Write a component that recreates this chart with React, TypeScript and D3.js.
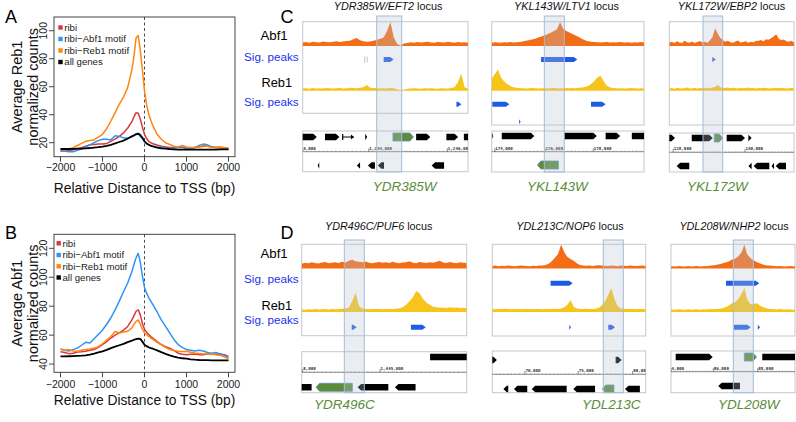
import React from "react";
import * as d3 from "d3";

const FONT = "'Liberation Sans', Arial, Helvetica, sans-serif";

// ---------- Panels A & B: metagene profiles ----------
const profilePos = [-2000,-1900,-1800,-1700,-1600,-1500,-1400,-1300,-1200,-1100,-1000,-900,-800,-700,-600,-500,-400,-300,-250,-200,-150,-100,-50,0,50,100,150,200,300,400,500,600,700,800,900,1000,1100,1200,1300,1400,1500,1600,1700,1800,1900,2000];

const reb1Ribi = [14,14,14.5,15,15.5,16.5,17.5,18.5,18.8,19,19,19.5,21,22.5,24.5,27,30.5,35,38.5,41.5,41,37,31,26,23,21,20,19.3,18.3,17.5,17,16.5,16.5,16.5,16.5,16,16,16.5,17,17.5,17.5,17,16.5,16.5,16,15.5];
const reb1Abf1Motif = [14.5,14,13.5,13.5,14.5,15.5,17,18.5,20,21.5,22.5,22.5,22,25,24.5,23.5,23,24.5,25.5,26.5,26,24.5,23,21,19.5,18.5,18,17.5,17,16.5,16,15.8,16,17,17,15.5,16,16.5,18,19,18.5,17,16.5,16.5,16,16];
const reb1Reb1Motif = [15.5,15,15.5,16.5,18,19.5,21,21.5,22,24,26,30,35.5,41.5,47.5,52.5,59.5,72,82,95,96.5,86,72,57,47,40.5,36,32,26,22.5,20,18.8,17.5,17,18,17,16.5,16.5,17,18,17.5,16.5,16.5,17,16.5,16];
const reb1AllGenes = [15.5,15.5,15.5,15.6,15.7,15.8,16,16.2,16.5,16.8,17.2,17.8,18.5,19.5,20.5,21.5,23,24.5,25.2,26,26.5,25.5,23.5,21,19.5,18.5,17.8,17.3,16.5,16,15.7,15.4,15.2,15,15,15,15,15,15,15,15,15,15.1,15.2,15.2,15.3];

const abf1Ribi = [48.5,48,47.2,47.5,48.3,48.5,48.8,49.5,50,51.5,53.5,55.5,58,60,61.5,63.5,66,70.5,73.5,76.5,77.5,74,68,64,62,60.5,59,58,55.5,53.5,52,51,49.5,47.5,46.8,46.5,46.8,47,46.5,46.5,47,47,46.8,47,46.5,45.3];
const abf1Abf1Motif = [50.5,49.5,49,50,51,53,55,54.5,57.5,60.5,63.5,67.5,72,77.5,83.5,90,96,104,109,113.5,116.5,110.5,101,93,89,86,83.5,81,76,70.5,66,61.5,57,53.5,51.5,50,49.5,49,49.5,49,48,47.5,48,47,46,44.5];
const abf1Reb1Motif = [50,49.5,50,49,48.8,49.5,50,50.5,51,52,54,56.5,59,62.5,61.5,62.2,62.7,65,67.5,69.5,70.5,67.5,64,61.5,60.3,59.2,58,57,55,53.4,51.5,50,49.3,48.8,48.7,48.8,48.2,47.6,47.3,47,47.2,47,46.5,46,45,43.7];
const abf1AllGenes = [45.3,45.3,45.4,45.5,45.7,45.8,46,46.5,47.2,48,48.8,49.8,51,52,53,54,55.2,56.2,56.8,57.3,57.6,57.4,55.5,53.4,52.4,51.6,51,50.6,49.5,48.2,47,46,45.2,44.5,44,43.7,43.3,43,42.8,42.7,42.7,42.6,42.6,42.5,42.5,42.5];

const seriesNames = ["ribi", "ribi\u2212Abf1 motif", "ribi\u2212Reb1 motif", "all genes"];
const seriesColors = ["#d8393f", "#2f93f5", "#ff8410", "#000000"];
const xTicks = [-2000, -1000, 0, 1000, 2000];
const yTicksA = [20, 40, 60, 80, 100];
const yTicksB = [40, 60, 80, 100, 120];

// ---------- Panels C & D: browser tracks (coverage sampled evenly across each locus) ----------
const c1Abf1 = [15,17,14,18,16,15,19,17,16,18,20,17,19,21,22,28,33,24,20,18,19,22,26,30,35,62,100,35,8,2,10,12,16,14,17,15,16,18,15,14,17,16,15,18,16,14,17,15,16,14];
const c1Reb1 = [9,10,8,11,9,10,9,11,10,9,10,11,9,10,12,11,10,12,14,24,12,11,10,9,10,9,11,10,5,3,4,8,9,10,9,8,10,9,10,9,8,10,9,9,11,14,35,72,14,9];
const c2Abf1 = [14,16,15,14,16,15,17,15,16,17,19,22,24,27,30,35,40,44,50,55,62,70,100,72,62,56,50,44,38,30,24,20,18,17,16,15,16,17,15,16,15,17,16,15,16,14,16,15,17,15];
const c2Reb1 = [50,70,88,55,38,28,20,14,12,11,10,9,10,11,10,9,10,10,9,10,11,10,9,10,11,10,11,10,12,13,15,20,28,40,55,62,40,22,14,11,10,9,10,9,10,11,10,9,10,9];
const c3Abf1 = [14,18,12,20,15,13,22,16,14,19,13,17,21,15,18,14,24,38,74,52,34,25,18,22,16,14,19,23,15,17,20,14,18,16,21,22,25,20,28,26,32,40,49,30,24,27,20,18,22,15];
const c3Reb1 = [9,11,8,12,10,9,11,13,9,10,12,9,11,10,12,11,10,13,15,25,14,12,11,13,10,12,11,9,12,10,11,13,10,12,9,11,10,12,11,10,9,12,11,10,12,11,9,10,11,10];
const d1Abf1 = [20,24,22,26,23,21,25,27,22,24,26,23,28,25,32,36,30,28,26,29,24,22,25,27,24,26,23,28,24,22,25,26,30,24,22,27,25,23,26,24,28,32,25,23,27,24,22,26,24,23];
const d1Reb1 = [10,9,11,10,12,10,11,12,10,13,11,12,14,15,18,45,80,25,15,12,11,12,13,12,11,12,13,12,14,16,20,30,45,60,87,78,55,40,30,22,20,18,19,17,20,18,19,17,18,16];
const d2Abf1 = [10,12,9,11,10,12,11,9,10,12,11,10,9,11,10,12,13,15,20,30,45,60,100,68,48,40,32,22,15,12,11,13,10,12,14,12,11,10,12,11,9,12,11,10,12,11,10,11,12,10];
const d2Reb1 = [12,11,13,12,14,12,11,13,12,11,12,13,12,11,13,12,11,12,13,12,14,13,15,20,30,50,22,15,13,12,14,13,12,14,18,28,45,70,100,55,25,16,14,12,13,12,11,12,13,12];
const d3Abf1 = [8,9,8,10,9,8,9,10,8,9,10,9,8,10,9,11,12,14,16,18,20,24,26,30,36,40,46,55,70,100,60,48,38,32,26,22,18,15,13,12,11,10,9,10,9,8,9,10,9,8];
const d3Reb1 = [9,10,9,11,10,9,10,11,9,10,11,10,9,11,10,12,11,13,12,14,15,18,22,28,35,40,48,60,78,100,55,38,30,34,36,28,22,18,15,13,12,11,10,12,11,10,11,10,9,10];

// peaks: [row, start, end, faint]
const c1Peaks = [[0,0.375,0.39,1],[0,0.49,0.55,0],[1,0.93,0.96,0]];
const c2Peaks = [[0,0.324,0.562,0],[1,0.004,0.116,0],[1,0.652,0.748,0],[2,0.18,0.19,0]];
const c3Peaks = [[0,0.345,0.372,0]];
const d1Peaks = [[1,0.303,0.333,0],[1,0.662,0.752,0]];
const d2Peaks = [[0,0.38,0.524,0],[1,0.502,0.513,0],[1,0.756,0.8,0]];
const d3Peaks = [[0,0.444,0.712,0],[1,0.508,0.643,0],[1,0.7,0.718,0]];

// genes: [start, end, strand, row, kind(0 black,1 target,2 thin)]
const c1Genes = [[-0.02,0.085,1,0,0],[0.135,0.222,1,0,0],[0.242,0.31,1,0,2],[0.378,0.39,1,0,0],[0.546,0.67,1,0,1],[0.686,0.772,1,0,0],[0.869,0.94,1,0,0],[0.975,1.05,1,0,0],
  [0.091,0.1,-1,1,0],[0.328,0.347,-1,1,0],[0.395,0.437,-1,1,0],[0.455,0.492,-1,1,0],[0.78,0.855,-1,1,0]];
const c2Genes = [[0.004,0.01,1,0,0],[0.066,0.28,1,0,0],[0.475,0.69,1,0,0],[0.748,0.843,1,0,0],[0.92,1.05,1,0,0],[0.3,0.438,-1,1,1]];
const c3Genes = [[-0.05,0.046,1,0,0],[0.18,0.348,1,0,0],[0.361,0.428,1,0,1],[0.46,0.607,1,0,0],[0.634,0.66,1,0,0],
  [0.059,0.16,-1,1,0],[0.634,0.66,-1,1,0],[0.676,0.802,-1,1,0],[0.82,0.84,-1,1,0],[0.853,0.936,-1,1,0]];
const d1Genes = [[0.778,1.05,1,0,0],[-0.05,0.06,-1,1,0],[0.087,0.307,-1,1,1],[0.339,0.525,-1,1,0],[0.565,0.69,-1,1,0]];
const d2Genes = [[-0.02,0.03,1,0,0],[0.804,0.843,1,0,0],[0.072,0.104,-1,1,0],[0.141,0.228,-1,1,0],[0.257,0.485,-1,1,0],[0.528,0.67,-1,1,0],[0.717,0.793,-1,1,1],[0.865,0.962,-1,1,0]];
const d3Genes = [[0.038,0.336,1,0,0],[0.591,0.69,1,0,1],[0.736,1.05,1,0,0],[0.381,0.556,-1,1,0]];

// ruler labels: [position, text]
const c1Ruler = [[0.0,"3,000"],[0.4,"1,244,000"],[0.875,"1,246,000"]];
const c2Ruler = [[0.02,"174,000"],[0.35,"176,000"],[0.667,"178,000"]];
const c3Ruler = [[0.032,"128,000"],[0.607,"130,000"]];
const d1Ruler = [[0.006,"8,000"],[0.475,"1,445,000"]];
const d2Ruler = [[0.213,"70,000"],[0.56,"75,000"],[0.915,"80,000"]];
const d3Ruler = [[0.0,"4,000"],[0.341,"86,000"],[0.7,"88,000"]];

const ABF_COLOR = "#f36c16";
const REB_COLOR = "#f7c41c";
const PEAK_COLOR = "#1f5ce6";
const GREEN = "#5b8c3a";
const LABEL_BLUE = "#2233ee";

type ProfileProps = {
  id: string; letter: string; letterY: number; boxTop: number; boxBottom: number;
  yDomain: [number, number]; yTicks: number[]; series: number[][]; yLabel: string;
  legendY: number[]; legendX: number; tickLabelY: number; titleY: number;
};

function Profile(p: ProfileProps) {
  const boxL = 54, boxR = 235;
  const x = d3.scaleLinear().domain([-2000, 2000]).range([60.5, 228.5]);
  const y = d3.scaleLinear().domain(p.yDomain).range([p.boxBottom, p.boxTop]);
  const line = d3.line<number>().x((_, i) => x(profilePos[i])).y(d => y(d));
  const midY = (p.boxTop + p.boxBottom) / 2;
  const order = [0, 1, 2, 3];
  return (
    <g>
      <text x={5} y={p.letterY} fontSize={18} fill="#000">{p.letter}</text>
      <rect x={boxL} y={p.boxTop} width={boxR - boxL} height={p.boxBottom - p.boxTop} fill="none" stroke="#333" strokeWidth={0.9} />
      {p.yTicks.map(t => (
        <g key={t}>
          <line x1={boxL} x2={boxL - 5} y1={y(t)} y2={y(t)} stroke="#333" strokeWidth={0.9} />
          <text transform={`translate(47,${y(t)}) rotate(-90)`} textAnchor="middle" fontSize={10.5} fill="#222">{t}</text>
        </g>
      ))}
      {xTicks.map(t => (
        <g key={t}>
          <line x1={x(t)} x2={x(t)} y1={p.boxBottom} y2={p.boxBottom + 5} stroke="#333" strokeWidth={0.9} />
          <text x={x(t)} y={p.tickLabelY} textAnchor="middle" fontSize={10.5} fill="#222">{t < 0 ? "\u2212" + Math.abs(t) : t}</text>
        </g>
      ))}
      <text transform={`translate(22,${midY}) rotate(-90)`} textAnchor="middle" fontSize={14.5} fill="#111">{p.yLabel}</text>
      <text transform={`translate(38,${midY}) rotate(-90)`} textAnchor="middle" fontSize={14.5} fill="#111">normalized counts</text>
      <text x={(boxL + boxR) / 2} y={p.titleY} textAnchor="middle" fontSize={13.8} fill="#111">Relative Distance to TSS (bp)</text>
      <line x1={x(0)} x2={x(0)} y1={p.boxTop} y2={p.boxBottom} stroke="#222" strokeWidth={0.8} strokeDasharray="3,2.5" />
      {order.map(i => (
        <path key={i} d={line(p.series[i]) || ""} fill="none" stroke={seriesColors[i]} strokeWidth={i === 3 ? 1.8 : 1.5} strokeLinejoin="round" />
      ))}
      {seriesNames.map((n, i) => (
        <g key={n}>
          <rect x={p.legendX} y={p.legendY[i] - 2.2} width={4.4} height={4.4} fill={seriesColors[i]} />
          <text x={p.legendX + 6} y={p.legendY[i] + 3.3} fontSize={9.6} fill="#222">{n}</text>
        </g>
      ))}
    </g>
  );
}

function genePath(xs: number, xe: number, y: number, h: number, strand: number) {
  const a = Math.min(3.5, Math.abs(xe - xs));
  if (strand > 0) return `M${xs},${y - h / 2}L${xe - a},${y - h / 2}L${xe},${y}L${xe - a},${y + h / 2}L${xs},${y + h / 2}Z`;
  return `M${xe},${y - h / 2}L${xs + a},${y - h / 2}L${xs},${y}L${xs + a},${y + h / 2}L${xe},${y + h / 2}Z`;
}

type LocusCfg = {
  id: string; x0: number; x1: number; top: number; bottom: number; gTop: number; gBottom: number;
  band: [number, number, number, number]; abf: number[]; reb: number[]; abfBase: number; rebBase: number;
  peakRows: number[]; peaks: number[][]; genes: number[][]; geneRows: number[]; rulerY: number;
  ruler: (number | string)[][]; titleIt: string; titleX: number; titleY: number; gene: string; geneX: number; geneY: number;
};

function Locus({ c }: { c: LocusCfg }) {
  const x = d3.scaleLinear().domain([0, 1]).range([c.x0, c.x1]);
  const idx = d3.scaleLinear().domain([0, c.abf.length - 1]).range([0, 1]);
  const yA = d3.scaleLinear().domain([0, 100]).range([c.abfBase, c.abfBase - 24]);
  const yR = d3.scaleLinear().domain([0, 100]).range([c.rebBase, c.rebBase - 24]);
  const areaA = d3.area<number>().x((_, i) => x(idx(i))).y0(c.abfBase).y1(d => yA(d));
  const areaR = d3.area<number>().x((_, i) => x(idx(i))).y0(c.rebBase).y1(d => yR(d));
  const minor = d3.range(0, 1.0001, 0.025);
  const clipT = `clipT-${c.id}`;
  const clipG = `clipG-${c.id}`;
  return (
    <g>
      <defs>
        <clipPath id={clipT}><rect x={c.x0} y={c.top} width={c.x1 - c.x0} height={c.bottom - c.top} /></clipPath>
        <clipPath id={clipG}><rect x={c.x0} y={c.gTop} width={c.x1 - c.x0} height={c.gBottom - c.gTop} /></clipPath>
      </defs>
      <rect x={c.x0} y={c.top} width={c.x1 - c.x0} height={c.bottom - c.top} fill="#fff" stroke="#c4c8cc" strokeWidth={1} />
      <g clipPath={`url(#${clipT})`}>
        <path d={areaA(c.abf) || ""} fill={ABF_COLOR} />
        <path d={areaR(c.reb) || ""} fill={REB_COLOR} />
        {c.peaks.map((p, i) => {
          const yy = c.peakRows[p[0]];
          if (p[3] === 1) {
            return (
              <g key={i}>
                <line x1={x(p[1])} x2={x(p[1])} y1={yy - 3} y2={yy + 3} stroke="#a8b4cc" strokeWidth={0.8} />
                <line x1={x(p[2])} x2={x(p[2])} y1={yy - 3} y2={yy + 3} stroke="#a8b4cc" strokeWidth={0.8} />
              </g>
            );
          }
          return <path key={i} d={genePath(x(p[1]), x(p[2]), yy, 5, 1)} fill={PEAK_COLOR} />;
        })}
      </g>
      <rect x={c.x0} y={c.gTop} width={c.x1 - c.x0} height={c.gBottom - c.gTop} fill="#fff" stroke="#c4c8cc" strokeWidth={1} />
      <g clipPath={`url(#${clipG})`}>
        <line x1={c.x0} x2={c.x1} y1={c.rulerY} y2={c.rulerY} stroke="#555" strokeWidth={0.7} />
        {minor.map((m, i) => (
          <line key={i} x1={x(m)} x2={x(m)} y1={c.rulerY} y2={c.rulerY - 1.3} stroke="#777" strokeWidth={0.4} />
        ))}
        {c.ruler.map((r, i) => (
          <g key={i}>
            <line x1={x(r[0] as number)} x2={x(r[0] as number)} y1={c.rulerY} y2={c.rulerY - 3.5} stroke="#444" strokeWidth={0.6} />
            <text x={x(r[0] as number) + 0.5} y={c.rulerY - 2} fontSize={4.2} fontFamily="'DejaVu Sans Mono', monospace" fontWeight="bold" fill="#333">{r[1]}</text>
          </g>
        ))}
        {c.genes.map((g, i) => {
          const yy = c.geneRows[g[3]];
          if (g[4] === 2) {
            return (
              <g key={i}>
                <line x1={x(g[0])} x2={x(g[1])} y1={yy} y2={yy} stroke="#000" strokeWidth={1} />
                <line x1={x(g[0])} x2={x(g[0])} y1={yy - 3} y2={yy + 3} stroke="#000" strokeWidth={1.2} />
                <path d={genePath(x(g[1]) - 3, x(g[1]), yy, 5, 1)} fill="#000" />
              </g>
            );
          }
          const green = g[4] === 1;
          return <path key={i} d={genePath(x(g[0]), x(g[1]), yy, green ? 8 : 6.5, g[2])} fill={green ? GREEN : "#000"} stroke={green ? "#5a8fc0" : "none"} strokeWidth={green ? 0.8 : 0} />;
        })}
      </g>
      <rect x={c.band[0]} y={c.band[2]} width={c.band[1] - c.band[0]} height={c.band[3] - c.band[2]} fill="#b8c2d0" fillOpacity={0.3} stroke="#a4bcd6" strokeWidth={1} />
      <text x={c.titleX} y={c.titleY} textAnchor="middle" fontSize={10.8} fill="#111">
        <tspan fontStyle="italic">{c.titleIt}</tspan><tspan> locus</tspan>
      </text>
      <text x={c.geneX} y={c.geneY} fontSize={13.5} fontStyle="italic" fill={GREEN}>{c.gene}</text>
    </g>
  );
}

const cRows = { abfBase: 46, rebBase: 90.7, peakRows: [59.5, 104.3, 121.7] };
const dRows = { abfBase: 268.5, rebBase: 312, peakRows: [283.3, 327.3, 340] };

const loci: LocusCfg[] = [
  { id: "c1", x0: 302.7, x1: 468, top: 21.7, bottom: 113.3, gTop: 131, gBottom: 171.7, band: [376.7, 401.7, 16, 172], abf: c1Abf1, reb: c1Reb1, ...cRows, peaks: c1Peaks, genes: c1Genes, geneRows: [137, 165.5], rulerY: 151.7, ruler: c1Ruler, titleIt: "YDR385W/EFT2", titleX: 388, titleY: 9.5, gene: "YDR385W", geneX: 372.7, geneY: 191 },
  { id: "c2", x0: 491.7, x1: 644, top: 21.7, bottom: 125, gTop: 131, gBottom: 172, band: [544.3, 564.3, 16, 172], abf: c2Abf1, reb: c2Reb1, ...cRows, peaks: c2Peaks, genes: c2Genes, geneRows: [136, 165], rulerY: 151.7, ruler: c2Ruler, titleIt: "YKL143W/LTV1", titleX: 566.5, titleY: 9.5, gene: "YKL143W", geneX: 527, geneY: 191 },
  { id: "c3", x0: 669.3, x1: 794, top: 21.7, bottom: 125, gTop: 133, gBottom: 172, band: [703, 722.7, 16, 172], abf: c3Abf1, reb: c3Reb1, ...cRows, peaks: c3Peaks, genes: c3Genes, geneRows: [138, 166], rulerY: 152.3, ruler: c3Ruler, titleIt: "YKL172W/EBP2", titleX: 731.5, titleY: 9.5, gene: "YKL172W", geneX: 687, geneY: 191 },
  { id: "d1", x0: 301.7, x1: 466.7, top: 244.3, bottom: 335.7, gTop: 351.7, gBottom: 392.7, band: [344.3, 364.3, 240, 392.7], abf: d1Abf1, reb: d1Reb1, ...dRows, peaks: d1Peaks, genes: d1Genes, geneRows: [357, 387.3], rulerY: 372.3, ruler: d1Ruler, titleIt: "YDR496C/PUF6", titleX: 378.7, titleY: 230, gene: "YDR496C", geneX: 314, geneY: 409.3 },
  { id: "d2", x0: 492.3, x1: 645.7, top: 244.3, bottom: 336, gTop: 351, gBottom: 392.7, band: [603.3, 623.3, 240, 392.7], abf: d2Abf1, reb: d2Reb1, ...dRows, peaks: d2Peaks, genes: d2Genes, geneRows: [360, 389], rulerY: 374.3, ruler: d2Ruler, titleIt: "YDL213C/NOP6", titleX: 570, titleY: 230, gene: "YDL213C", geneX: 582, geneY: 409.3 },
  { id: "d3", x0: 671, x1: 795, top: 244.3, bottom: 336, gTop: 351, gBottom: 392.7, band: [733.3, 753.3, 240, 392.7], abf: d3Abf1, reb: d3Reb1, ...dRows, peaks: d3Peaks, genes: d3Genes, geneRows: [357, 386], rulerY: 371.7, ruler: d3Ruler, titleIt: "YDL208W/NHP2", titleX: 734, titleY: 230, gene: "YDL208W", geneX: 718, geneY: 409.3 },
];

function TrackLabels({ letter, letterY, ys }: { letter: string; letterY: number; ys: number[] }) {
  return (
    <g>
      <text x={280.5} y={letterY} fontSize={18} fill="#000">{letter}</text>
      <text x={260.5} y={ys[0]} fontSize={13.2} fill="#000">Abf1</text>
      <text x={244} y={ys[1]} fontSize={11.7} fill={LABEL_BLUE}>Sig. peaks</text>
      <text x={261.5} y={ys[2]} fontSize={12.8} fill="#000">Reb1</text>
      <text x={244} y={ys[3]} fontSize={11.7} fill={LABEL_BLUE}>Sig. peaks</text>
    </g>
  );
}

export default function App() {
  return (
    <svg width={796} height={422} viewBox="0 0 796 422" style={{ position: "absolute", left: 0, top: 0, background: "#fff" }} fontFamily={FONT}>
      <rect x={0} y={0} width={796} height={422} fill="#fff" />
      <Profile id="A" letter="A" letterY={23.3} boxTop={17} boxBottom={156.7} yDomain={[10, 109.8]} yTicks={yTicksA}
        series={[reb1Ribi, reb1Abf1Motif, reb1Reb1Motif, reb1AllGenes]} yLabel="Average Reb1"
        legendY={[27.5, 39, 50.5, 62]} legendX={58.3} tickLabelY={171} titleY={193} />
      <Profile id="B" letter="B" letterY={238.5} boxTop={234.3} boxBottom={372.3} yDomain={[34.3, 129.7]} yTicks={yTicksB}
        series={[abf1Ribi, abf1Abf1Motif, abf1Reb1Motif, abf1AllGenes]} yLabel="Average Abf1"
        legendY={[243.3, 255, 266.3, 277.5]} legendX={56.5} tickLabelY={387.5} titleY={405} />
      <TrackLabels letter="C" letterY={23.3} ys={[40, 60.5, 86.7, 106]} />
      <TrackLabels letter="D" letterY={239.3} ys={[258.3, 282.5, 310, 324]} />
      {loci.map(c => <Locus key={c.id} c={c} />)}
    </svg>
  );
}
